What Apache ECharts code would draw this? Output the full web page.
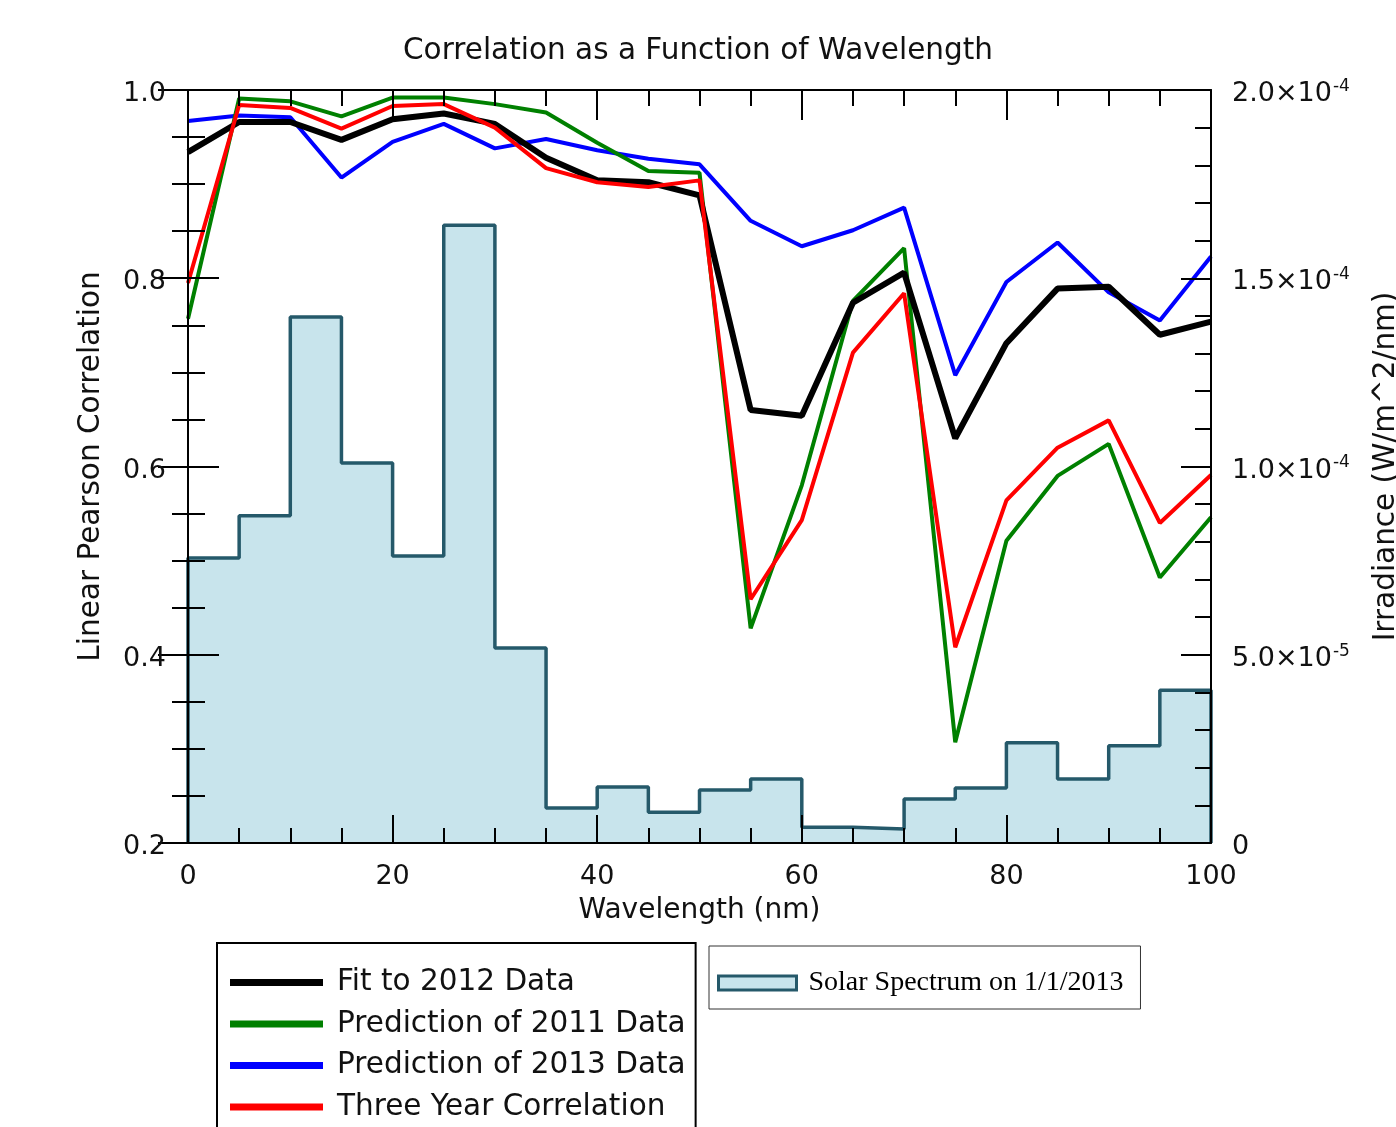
<!DOCTYPE html>
<html>
<head>
<meta charset="utf-8">
<script src="https://cdn.jsdelivr.net/npm/echarts@6/dist/echarts.min.js"></script>
<style>
  html, body { margin: 0; padding: 0; background: #fff; }
  #main { width: 1396px; height: 1127px; }
</style>
</head>
<body>
<div id="main"></div>
<script>
// wavelength sample points (nm)
const wavelength = [0, 5, 10, 15, 20, 25, 30, 35, 40, 45, 50, 55, 60, 65, 70, 75, 80, 85, 90, 95, 100]
const fit2012 = [0.934, 0.966, 0.966, 0.947, 0.969, 0.975, 0.964, 0.928, 0.904, 0.902, 0.888, 0.660, 0.654, 0.774, 0.806, 0.630, 0.731, 0.789, 0.791, 0.740, 0.754]
const pred2011 = [0.757, 0.991, 0.988, 0.972, 0.992, 0.992, 0.985, 0.976, 0.944, 0.914, 0.912, 0.428, 0.580, 0.776, 0.832, 0.307, 0.521, 0.590, 0.624, 0.482, 0.546]
const pred2013 = [0.967, 0.973, 0.971, 0.907, 0.945, 0.964, 0.938, 0.948, 0.936, 0.927, 0.921, 0.861, 0.834, 0.851, 0.875, 0.697, 0.796, 0.838, 0.785, 0.755, 0.823]
const threeYear = [0.795, 0.984, 0.981, 0.959, 0.983, 0.985, 0.960, 0.917, 0.902, 0.897, 0.904, 0.459, 0.543, 0.721, 0.784, 0.408, 0.564, 0.620, 0.649, 0.540, 0.591]

// solar spectrum bins, 5 nm wide (W/m^2/nm)
const binStart = [0, 5, 10, 15, 20, 25, 30, 35, 40, 45, 50, 55, 60, 65, 70, 75, 80, 85, 90, 95]
const binEnd = 100
const irradiance = [7.57e-5, 8.69e-5, 13.97e-5, 10.09e-5, 7.62e-5, 16.41e-5, 5.18e-5, 0.93e-5, 1.49e-5, 0.82e-5,
  1.41e-5, 1.70e-5, 0.42e-5, 0.37e-5, 1.17e-5, 1.46e-5, 2.66e-5, 1.70e-5, 2.58e-5, 4.06e-5]

const sans = 'DejaVu Sans'
const serif = 'Liberation Serif'

const pairs = arr => wavelength.map((w, i) => [w, arr[i]])

// step outline: start at 0, go up, across each bin, back down at the end
const stepData = [[binStart[0], 0]]
  .concat(binStart.map((b, i) => [b, irradiance[i]]))
  .concat([[binEnd, irradiance[irradiance.length - 1]], [binEnd, 0]])

function sciLabel (v) {
  if (v === 0) return '{m|0}'
  const e = Math.floor(Math.log10(v) + 1e-9)
  const m = v / Math.pow(10, e)
  return '{m|' + m.toFixed(1) + '×10}{s|' + e + '}'
}

const tickStyle = { color: '#000', width: 2 }

const myChart = echarts.init(document.getElementById('main'))
const option = {
  animation: false,
  backgroundColor: '#fff',
  title: {
    text: 'Correlation as a Function of Wavelength',
    left: 'center',
    top: 31,
    textStyle: { fontFamily: sans, fontSize: 29.5, fontWeight: 'normal', color: '#111' }
  },
  grid: {
    left: 188,
    right: 185,
    top: 90,
    bottom: 284,
    outerBoundsMode: 'none',
    show: false
  },
  legend: [
    {
      data: ['Fit to 2012 Data', 'Prediction of 2011 Data', 'Prediction of 2013 Data', 'Three Year Correlation'],
      orient: 'vertical',
      left: 217,
      top: 943,
      height: 220,
      icon: 'rect',
      itemWidth: 93,
      itemHeight: 7,
      itemGap: 10.5,
      padding: [24, 10, 20, 13],
      borderColor: '#000',
      borderWidth: 2,
      textStyle: { fontFamily: sans, fontSize: 29.5, color: '#111', lineHeight: 31, padding: [0, 0, 0, 9] }
    },
    {
      data: [{
        name: 'Solar Spectrum on 1/1/2013',
        icon: 'rect',
        itemStyle: { color: '#c8e4ec', borderColor: '#25596a', borderWidth: 3 }
      }],
      left: 709,
      top: 946,
      itemWidth: 78,
      itemHeight: 14,
      padding: [23, 17, 12, 8],
      borderColor: '#333',
      borderWidth: 1,
      textStyle: { fontFamily: serif, fontSize: 28, color: '#000', lineHeight: 28, padding: [0, 0, 0, 7] }
    }
  ],
  xAxis: [
    {
      type: 'value',
      min: 0,
      max: 100,
      interval: 20,
      z: 10,
      name: 'Wavelength (nm)',
      nameLocation: 'middle',
      nameGap: 54,
      nameTextStyle: { fontFamily: sans, fontSize: 28, color: '#111' },
      axisLine: { show: true, onZero: false, lineStyle: { color: '#000', width: 2 } },
      axisTick: { show: true, inside: true, length: 28, lineStyle: tickStyle },
      minorTick: { show: true, splitNumber: 4, length: 15, lineStyle: tickStyle },
      axisLabel: { fontFamily: sans, fontSize: 27, color: '#111', margin: 20 },
      splitLine: { show: false }
    },
    {
      type: 'value',
      position: 'top',
      min: 0,
      max: 100,
      interval: 20,
      z: 10,
      axisLine: { show: true, onZero: false, lineStyle: { color: '#000', width: 2 } },
      axisTick: { show: true, inside: true, length: 30, lineStyle: tickStyle },
      minorTick: { show: true, splitNumber: 4, length: 16, lineStyle: tickStyle },
      axisLabel: { show: false },
      splitLine: { show: false }
    }
  ],
  yAxis: [
    {
      type: 'value',
      min: 0.2,
      max: 1.0,
      interval: 0.2,
      z: 10,
      name: 'Linear Pearson Correlation',
      nameLocation: 'middle',
      nameRotate: 90,
      nameGap: 82,
      nameTextStyle: { fontFamily: sans, fontSize: 29.5, color: '#111' },
      axisLine: { show: true, onZero: false, lineStyle: { color: '#000', width: 2 } },
      axisTick: { show: true, inside: true, length: 31, lineStyle: tickStyle },
      minorTick: { show: true, splitNumber: 4, length: 17, lineStyle: tickStyle },
      axisLabel: {
        margin: 22,
        formatter: v => '{v|' + v.toFixed(1) + '}',
        rich: {
          v: { fontFamily: sans, fontSize: 27, color: '#111', padding: [8, 0, 0, 0] }
        }
      },
      splitLine: { show: false }
    },
    {
      type: 'value',
      position: 'right',
      min: 0,
      max: 2e-4,
      interval: 5e-5,
      z: 10,
      name: 'Irradiance (W/m^2/nm)',
      nameLocation: 'middle',
      nameRotate: 90,
      nameGap: 160,
      nameTextStyle: { fontFamily: sans, fontSize: 29.5, color: '#111' },
      axisLine: { show: true, onZero: false, lineStyle: { color: '#000', width: 2 } },
      axisTick: { show: true, inside: true, length: 30, lineStyle: tickStyle },
      minorTick: { show: true, splitNumber: 5, length: 16, lineStyle: tickStyle },
      axisLabel: {
        margin: 21,
        padding: [8, 0, 0, 0],
        formatter: sciLabel,
        rich: {
          m: { fontFamily: sans, fontSize: 27, color: '#111' },
          s: { fontFamily: sans, fontSize: 17, color: '#111', padding: [0, 0, 15, 1] }
        }
      },
      splitLine: { show: false }
    },
    {
      // mirror of the correlation ticks along the right frame
      type: 'value',
      position: 'right',
      min: 0.2,
      max: 1.0,
      interval: 0.2,
      z: 10,
      axisLine: { show: false },
      axisTick: { show: true, inside: true, length: 30, lineStyle: tickStyle },
      minorTick: { show: true, splitNumber: 4, length: 16, lineStyle: tickStyle },
      axisLabel: { show: false },
      splitLine: { show: false }
    }
  ],
  series: [
    {
      name: 'Solar Spectrum on 1/1/2013',
      type: 'line',
      step: 'end',
      xAxisIndex: 0,
      yAxisIndex: 1,
      symbol: 'none',
      color: '#c8e4ec',
      lineStyle: { color: '#25596a', width: 3.5 },
      areaStyle: { color: '#c8e4ec', opacity: 1 },
      z: 1,
      data: stepData
    },
    {
      name: 'Prediction of 2013 Data',
      type: 'line',
      xAxisIndex: 0,
      yAxisIndex: 0,
      symbol: 'none',
      color: '#0000ff',
      lineStyle: { width: 4 },
      z: 3,
      data: pairs(pred2013)
    },
    {
      name: 'Prediction of 2011 Data',
      type: 'line',
      xAxisIndex: 0,
      yAxisIndex: 0,
      symbol: 'none',
      color: '#008000',
      lineStyle: { width: 4 },
      z: 4,
      data: pairs(pred2011)
    },
    {
      name: 'Fit to 2012 Data',
      type: 'line',
      xAxisIndex: 0,
      yAxisIndex: 0,
      symbol: 'none',
      color: '#000000',
      lineStyle: { width: 6 },
      z: 5,
      data: pairs(fit2012)
    },
    {
      name: 'Three Year Correlation',
      type: 'line',
      xAxisIndex: 0,
      yAxisIndex: 0,
      symbol: 'none',
      color: '#ff0000',
      lineStyle: { width: 4 },
      z: 6,
      data: pairs(threeYear)
    }
  ]
}
myChart.setOption(option)
</script>
</body>
</html>
